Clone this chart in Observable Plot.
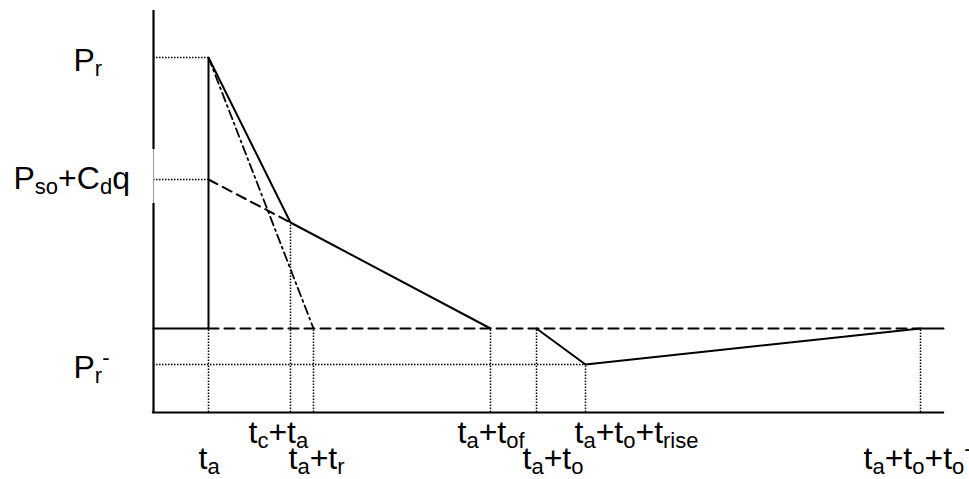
<!DOCTYPE html>
<html>
<head>
<meta charset="utf-8">
<script src="https://cdn.jsdelivr.net/npm/d3@7"></script>
<script src="https://cdn.jsdelivr.net/npm/@observablehq/plot@0.6"></script>
<style>
  html, body { margin: 0; padding: 0; background: #fff; }
</style>
</head>
<body>
<div id="chart"></div>
<script>
// ---- Data (arbitrary time / pressure units) ----
// Key times: ta, tc+ta, ta+tr, ta+tof, ta+to, ta+to+trise, ta+to+to-
const timeValues = [55, 137, 160, 337, 383, 432, 767];
const timeLabels = ["t_{a}", "t_{c}+t_{a}", "t_{a}+t_{r}", "t_{a}+t_{of}", "t_{a}+t_{o}", "t_{a}+t_{o}+t_{rise}", "t_{a}+t_{o}+t_{o}^{-}"];
const timeAxisEnd = 790;

// Key pressures: Pr, Pso+Cdq, P at tc, ambient, Pr-
const pressureValues = [355, 233, 190, 84, 48];
const pressureLabels = ["P_{r}", "P_{so}+C_{d}q", "", "", "P_{r}^{-}"];
const pressureAxisTop = 402;

const [tA, tCA, tAR, tAOF, tAO, tRISE, tONEG] = timeValues;
const [pR, pSO, pC, p0, pRneg] = pressureValues;

// Series (built from the named values above)
const positivePhase = [[0, p0], [tA, p0], [tA, pR], [tCA, pC], [tAOF, p0]];
const negativePhase = [[tAO, p0], [tRISE, pRneg], [tONEG, p0], [timeAxisEnd, p0]];
const ambientDashed = [[tA, p0], [tONEG, p0]];
const stagnationDashed = [[tA, pSO], [tCA, pC]];
const fictitiousDashDot = [[tA, pR], [tAR, p0]];
// heights the dotted guides reach at each key time
const guideTops = [p0, pC, p0, p0, p0, pRneg, p0];
// horizontal dotted guides: level and end time
const hGuideLevels = [pR, pSO, pRneg];
const hGuideEnds = [tA, tA, tRISE];

// ---- Layout (label placement) ----
const xLabelRow = [1, 0, 1, 0, 1, 0, 1];
const xLabelDx = [-10, -42, -25, -33, -14, -11, -57];
const yLabelDx = [-80, -140, 0, 0, -80];
const yLabelDy = [3, -1, 0, 0, 3];
const MAIN_SIZE = 32, SUB_SIZE = 22;

const FONT = "Liberation Sans, Arial, Helvetica, sans-serif";
const dotted = {stroke: "black", strokeWidth: 1.5, strokeDasharray: "1.5,1.5"};

const marks = [];

// dotted vertical guides
marks.push(Plot.ruleX(timeValues.map((t, i) => ({t, top: guideTops[i]})),
  {x: "t", y1: 0, y2: "top", ...dotted}));
// dotted horizontal guides
marks.push(Plot.ruleY(hGuideLevels.map((p, i) => ({p, end: hGuideEnds[i]})),
  {y: "p", x1: 0, x2: "end", ...dotted}));

// dashed lines
marks.push(Plot.line(ambientDashed, {stroke: "black", strokeWidth: 2, strokeDasharray: "10,6"}));
marks.push(Plot.line(stagnationDashed, {stroke: "black", strokeWidth: 2, strokeDasharray: "10,6"}));
// dash-dot line
marks.push(Plot.line(fictitiousDashDot, {stroke: "black", strokeWidth: 1.8, strokeDasharray: "9,4,2,4"}));
// solid phases
marks.push(Plot.line(positivePhase, {stroke: "black", strokeWidth: 2, strokeLinejoin: "miter"}));
marks.push(Plot.line(negativePhase, {stroke: "black", strokeWidth: 2, strokeLinejoin: "miter"}));

// axes
marks.push(Plot.ruleY([0], {x1: 0, x2: timeAxisEnd, stroke: "black", strokeWidth: 2.2, strokeLinecap: "square"}));
marks.push(Plot.ruleX([0], {y1: 0, y2: 209, stroke: "black", strokeWidth: 2.2}));
marks.push(Plot.ruleX([0], {y1: 209, y2: 263, stroke: "#999", strokeWidth: 1}));
marks.push(Plot.ruleX([0], {y1: 263, y2: pressureAxisTop, stroke: "black", strokeWidth: 2.2}));

// y labels
pressureLabels.forEach((lab, i) => {
  if (!lab) return;
  marks.push(Plot.text([{p: pressureValues[i], lab}], {
    x: 0, y: "p", text: "lab", textAnchor: "start",
    dx: yLabelDx[i], dy: yLabelDy[i], fontSize: MAIN_SIZE, fontFamily: FONT, fill: "black"
  }));
});
// x labels
timeLabels.forEach((lab, i) => {
  marks.push(Plot.text([{t: timeValues[i], lab}], {
    x: "t", y: 0, text: "lab", textAnchor: "start",
    dx: xLabelDx[i], dy: xLabelRow[i] ? 46 : 20, fontSize: MAIN_SIZE, fontFamily: FONT, fill: "black"
  }));
});

const chart = Plot.plot({
  width: 969,
  height: 479,
  marginLeft: 153,
  marginRight: 26,
  marginTop: 10,
  marginBottom: 67,
  x: {domain: [0, timeAxisEnd], axis: null},
  y: {domain: [0, pressureAxisTop], axis: null},
  style: {background: "white", fontFamily: FONT, overflow: "visible"},
  marks
});

// turn "_{..}" / "^{..}" markup into sub/superscript tspans
function richify(svg) {
  svg.querySelectorAll("text").forEach(t => {
    const src = t.textContent;
    if (!/[_^]\{/.test(src)) return;
    while (t.firstChild) t.removeChild(t.firstChild);
    let shift = 0;
    const re = /([_^])\{([^}]*)\}|([^_^]+)/g;
    let m;
    while ((m = re.exec(src))) {
      const ts = document.createElementNS("http://www.w3.org/2000/svg", "tspan");
      let target, size = null;
      if (m[1] === "_") { target = 5; size = SUB_SIZE; ts.textContent = m[2]; }
      else if (m[1] === "^") { target = -13; size = SUB_SIZE; ts.textContent = m[2]; }
      else { target = 0; ts.textContent = m[3]; }
      if (target !== shift) ts.setAttribute("dy", target - shift);
      if (size) ts.setAttribute("font-size", size);
      shift = target;
      t.appendChild(ts);
    }
  });
}
richify(chart);
document.getElementById("chart").appendChild(chart);
</script>
</body>
</html>
